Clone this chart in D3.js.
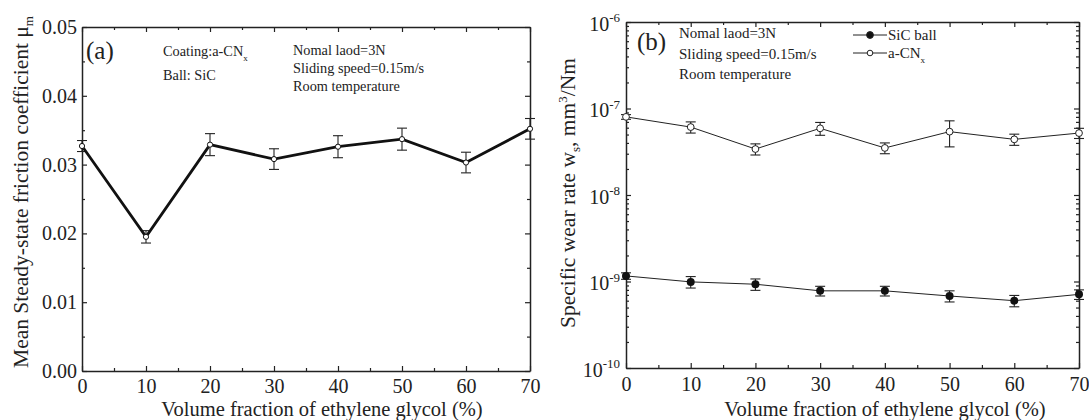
<!DOCTYPE html>
<html>
<head>
<meta charset="utf-8">
<script src="https://cdn.jsdelivr.net/npm/d3@7"></script>
<style>
  body { margin: 0; background: #fff; }
  svg text { font-family: "Liberation Serif", "Times New Roman", serif; }
  .domain { stroke: #222; stroke-width: 1.5; }
  .tick line { stroke: #222; stroke-width: 1.2; }
</style>
</head>
<body>
<svg id="chart" width="1089" height="420"></svg>
<script>
const glycol = [0, 10, 20, 30, 40, 50, 60, 70];
const xTicks = [0, 10, 20, 30, 40, 50, 60, 70];

// panel (a)
const frictionMean = [0.0327, 0.0195, 0.0329, 0.0308, 0.0326, 0.0337, 0.0303, 0.0352];
const frictionErr = [0.0008, 0.0009, 0.0016, 0.0015, 0.0016, 0.0016, 0.0015, 0.0015];
const frictionTicks = [0.00, 0.01, 0.02, 0.03, 0.04, 0.05];

// panel (b)
const sicWear = [1.16e-9, 9.9e-10, 9.3e-10, 7.8e-10, 7.8e-10, 6.8e-10, 6.0e-10, 7.1e-10];
const sicErr = [1.0e-10, 1.5e-10, 1.4e-10, 1.0e-10, 1.0e-10, 1.0e-10, 0.9e-10, 0.9e-10];
const cnWear = [8.0e-8, 6.1e-8, 3.4e-8, 5.9e-8, 3.5e-8, 5.4e-8, 4.4e-8, 5.2e-8];
const cnErr = [0.5e-8, 0.9e-8, 0.5e-8, 1.0e-8, 0.5e-8, 1.8e-8, 0.65e-8, 0.7e-8];
const wearDecades = [-10, -9, -8, -7, -6];

const serif = "'Liberation Serif', 'Times New Roman', serif";
const svg = d3.select("#chart");

function frame(x, y, majorY, minorY, xPad) {
    const [x0, x1] = x.range();
    const [y0, y1] = y.range();
    const g = svg.append("g");
    const xMinor = d3.range(5, 70, 10);

    // bottom, with labels
    g.append("g").attr("transform", `translate(0,${y0})`)
        .call(d3.axisBottom(x).tickValues(xTicks).tickSizeInner(-5).tickSizeOuter(0).tickPadding(xPad).tickFormat(d3.format("d")))
        .call(s => s.selectAll("text").attr("font-size", 20).attr("fill", "#222"));
    g.append("g").attr("transform", `translate(0,${y0})`)
        .call(d3.axisBottom(x).tickValues(xMinor).tickSizeInner(-3).tickSizeOuter(0).tickFormat(""))
        .call(s => s.select(".domain").remove());
    // top mirror
    g.append("g").attr("transform", `translate(0,${y1})`)
        .call(d3.axisTop(x).tickValues(xTicks).tickSizeInner(-5).tickSizeOuter(0).tickFormat(""));
    g.append("g").attr("transform", `translate(0,${y1})`)
        .call(d3.axisTop(x).tickValues(xMinor).tickSizeInner(-3).tickSizeOuter(0).tickFormat(""))
        .call(s => s.select(".domain").remove());

    // left with labels
    const left = g.append("g").attr("transform", `translate(${x0},0)`)
        .call(majorY(d3.axisLeft(y)).tickSizeInner(-5).tickSizeOuter(0).tickPadding(5));
    left.selectAll("text").attr("font-size", 20).attr("fill", "#222");
    g.append("g").attr("transform", `translate(${x0},0)`)
        .call(d3.axisLeft(y).tickValues(minorY).tickSizeInner(-3).tickSizeOuter(0).tickFormat(""))
        .call(s => s.select(".domain").remove());
    // right mirror
    g.append("g").attr("transform", `translate(${x1},0)`)
        .call(majorY(d3.axisRight(y)).tickSizeInner(-5).tickSizeOuter(0).tickFormat(""));
    g.append("g").attr("transform", `translate(${x1},0)`)
        .call(d3.axisRight(y).tickValues(minorY).tickSizeInner(-3).tickSizeOuter(0).tickFormat(""))
        .call(s => s.select(".domain").remove());
    return left;
}

function errorBars(g, x, y, vals, errs, cap) {
    const eb = g.append("g").attr("stroke", "#222").attr("stroke-width", 1.1);
    vals.forEach((v, i) => {
        const cx = x(glycol[i]);
        const lo = y(v - errs[i]), hi = y(v + errs[i]);
        eb.append("line").attr("x1", cx).attr("x2", cx).attr("y1", lo).attr("y2", hi);
        eb.append("line").attr("x1", cx - cap).attr("x2", cx + cap).attr("y1", lo).attr("y2", lo);
        eb.append("line").attr("x1", cx - cap).attr("x2", cx + cap).attr("y1", hi).attr("y2", hi);
    });
}

// ---------- panel (a) ----------
const xa = d3.scaleLinear().domain([0, 70]).range([82, 530]);
const ya = d3.scaleLinear().domain([0, 0.05]).range([371, 27]);

frame(xa, ya, a => a.tickValues(frictionTicks).tickFormat(d3.format(".2f")), d3.range(0.005, 0.05, 0.01), 8);

const ga = svg.append("g");
errorBars(ga, xa, ya, frictionMean, frictionErr, 5);
ga.append("path")
    .datum(frictionMean)
    .attr("fill", "none")
    .attr("stroke", "#111")
    .attr("stroke-width", 2.8)
    .attr("d", d3.line().x((d, i) => xa(glycol[i])).y(d => ya(d)));
ga.selectAll("circle").data(frictionMean).enter().append("circle")
    .attr("cx", (d, i) => xa(glycol[i]))
    .attr("cy", d => ya(d))
    .attr("r", 2.6)
    .attr("fill", "#fff")
    .attr("stroke", "#111")
    .attr("stroke-width", 1);

ga.append("text").attr("x", 86).attr("y", 59).attr("font-size", 25).attr("fill", "#222").text("(a)");
const coat = ga.append("text").attr("x", 163).attr("y", 56).attr("font-size", 14.3).attr("fill", "#222").text("Coating:a-CN");
coat.append("tspan").attr("dy", 5).attr("font-size", 9).text("x");
ga.append("text").attr("x", 163).attr("y", 80).attr("font-size", 14.3).attr("fill", "#222").text("Ball: SiC");
["Nomal laod=3N", "Sliding speed=0.15m/s", "Room temperature"].forEach((t, i) => {
    ga.append("text").attr("x", 293).attr("y", 55 + i * 18).attr("font-size", 14.3).attr("fill", "#222").text(t);
});

const yla = ga.append("text")
    .attr("transform", "translate(28,192) rotate(-90)")
    .attr("text-anchor", "middle")
    .attr("font-size", 21.5)
    .attr("fill", "#222")
    .text("Mean Steady-state friction coefficient \u03bc");
yla.append("tspan").attr("dy", 5).attr("font-size", 13).text("m");

ga.append("text").attr("x", 322).attr("y", 416).attr("text-anchor", "middle")
    .attr("font-size", 20.5).attr("fill", "#222").text("Volume fraction of ethylene glycol (%)");

// ---------- panel (b) ----------
const xb = d3.scaleLinear().domain([0, 70]).range([626, 1079]);
const yb = d3.scaleLog().domain([1e-10, 1e-6]).range([368, 22]);

const logMinor = [];
wearDecades.slice(0, -1).forEach(e => {
    for (let m = 2; m <= 9; m++) logMinor.push(m * Math.pow(10, e));
});

const leftB = frame(xb, yb, a => a.tickValues(wearDecades.map(e => Math.pow(10, e))).tickFormat(() => "10"), logMinor, 9);
leftB.selectAll(".tick text").each(function(d) {
    const t = d3.select(this);
    t.append("tspan").attr("dy", "-0.65em").attr("font-size", 13).text(Math.round(Math.log10(d)));
});
leftB.selectAll(".tick text").attr("dy", "0.4em").attr("x", -6);

const gb = svg.append("g");
errorBars(gb, xb, yb, sicWear, sicErr, 5);
errorBars(gb, xb, yb, cnWear, cnErr, 5);
const lineB = d3.line().x((d, i) => xb(glycol[i])).y(d => yb(d));
gb.append("path").datum(sicWear).attr("fill", "none").attr("stroke", "#222").attr("stroke-width", 1).attr("d", lineB);
gb.append("path").datum(cnWear).attr("fill", "none").attr("stroke", "#222").attr("stroke-width", 1).attr("d", lineB);
gb.append("g").selectAll("circle").data(sicWear).enter().append("circle")
    .attr("cx", (d, i) => xb(glycol[i])).attr("cy", d => yb(d))
    .attr("r", 4).attr("fill", "#111");
gb.append("g").selectAll("circle").data(cnWear).enter().append("circle")
    .attr("cx", (d, i) => xb(glycol[i])).attr("cy", d => yb(d))
    .attr("r", 3.4).attr("fill", "#fff").attr("stroke", "#222").attr("stroke-width", 1);

gb.append("text").attr("x", 637).attr("y", 50).attr("font-size", 25).attr("fill", "#222").text("(b)");
["Nomal laod=3N", "Sliding speed=0.15m/s", "Room temperature"].forEach((t, i) => {
    gb.append("text").attr("x", 679).attr("y", 38 + i * 20.5).attr("font-size", 15).attr("fill", "#222").text(t);
});

// legend
const legend = gb.append("g");
[["SiC ball", true], ["a-CN", false]].forEach(([name, filled], i) => {
    const ly = 35 + i * 18;
    legend.append("line").attr("x1", 853).attr("x2", 887).attr("y1", ly).attr("y2", ly).attr("stroke", "#222");
    legend.append("circle").attr("cx", 870).attr("cy", ly).attr("r", filled ? 3.4 : 2.8)
        .attr("fill", filled ? "#111" : "#fff").attr("stroke", "#222");
    const t = legend.append("text").attr("x", 888).attr("y", ly + 5).attr("font-size", 15).attr("fill", "#222").text(name);
    if (!filled) t.append("tspan").attr("dy", 5).attr("font-size", 9).text("x");
});

const ylb = gb.append("text")
    .attr("transform", "translate(575,193) rotate(-90)")
    .attr("text-anchor", "middle")
    .attr("font-size", 21.5)
    .attr("fill", "#222")
    .text("Specific wear rate w");
ylb.append("tspan").attr("dy", 5).attr("font-size", 13).text("s");
ylb.append("tspan").attr("dy", -5).text(", mm");
ylb.append("tspan").attr("dy", -8).attr("font-size", 13).text("3");
ylb.append("tspan").attr("dy", 8).text("/Nm");

gb.append("text").attr("x", 885).attr("y", 416).attr("text-anchor", "middle")
    .attr("font-size", 20.5).attr("fill", "#222").text("Volume fraction of ethylene glycol (%)");

// axis groups carry their own sans-serif family; override everywhere
svg.selectAll("g").attr("font-family", serif);
svg.selectAll("text").attr("font-family", serif);
</script>
</body>
</html>
